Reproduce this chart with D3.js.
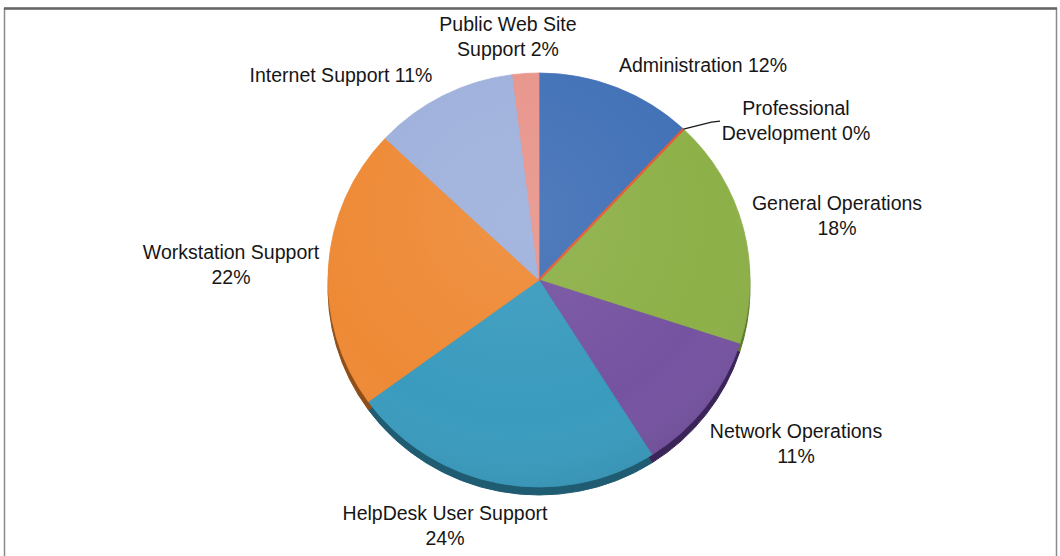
<!DOCTYPE html>
<html>
<head>
<meta charset="utf-8">
<script src="https://cdn.jsdelivr.net/npm/d3@7"></script>
<style>
  html, body { margin: 0; padding: 0; background: #ffffff; }
  svg { display: block; }
  text { font-family: "Liberation Sans", Arial, sans-serif; fill: #161616; }
</style>
</head>
<body>
<svg id="chart" width="1060" height="556"></svg>
<script>
// ---- data ----
const categories = [
  "Administration",
  "Professional Development",
  "General Operations",
  "Network Operations",
  "HelpDesk User Support",
  "Workstation Support",
  "Internet Support",
  "Public Web Site Support"
];
const values = [12, 0, 18, 11, 24, 22, 11, 2];
const labelLines = [
  ["Administration 12%"],
  ["Professional", "Development 0%"],
  ["General Operations", "18%"],
  ["Network Operations", "11%"],
  ["HelpDesk User Support", "24%"],
  ["Workstation Support", "22%"],
  ["Internet Support 11%"],
  ["Public Web Site", "Support 2%"]
];
const colors = ["#4271b7", "#e35a34", "#8db048", "#7653a1", "#3a9bbe", "#ee8a36", "#9fb1dc", "#e8958b"];
const rimColors = ["#2c4e80", "#9a3f22", "#5d7a2c", "#3a2458", "#1f5c72", "#8f4e18", "#6a7ca6", "#a05e56"];

// ---- layout (not data) ----
const W = 1060, H = 556;
const cx = 539, cy = 280, rx = 211, ry = 207, rimDepth = 8;
const labelPos = [
  [703, 72], [796, 115], [837, 210], [796, 438],
  [445, 520], [231, 259], [341, 82], [508, 31]
];
const lineGap = 25;

const svg = d3.select("#chart");

// frame
svg.append("rect").attr("x", 0).attr("y", 0).attr("width", W).attr("height", H).attr("fill", "#fff");
svg.append("rect")
  .attr("x", 4.5).attr("y", 8.5).attr("width", 1052).attr("height", 560)
  .attr("fill", "none").attr("stroke", "#8a8a8a").attr("stroke-width", 1.5);
svg.append("line").attr("x1", 4).attr("x2", 1057).attr("y1", 8.5).attr("y2", 8.5)
  .attr("stroke", "#666").attr("stroke-width", 2.5);

const pie = d3.pie().value(d => d).sort(null);
const arcs = pie(values);
const arc = d3.arc().innerRadius(0).outerRadius(rx);

// rim (3D depth)
const rimG = svg.append("g")
  .attr("transform", `translate(${cx},${cy + rimDepth}) scale(1,${ry / rx})`);
rimG.selectAll("path").data(arcs).join("path")
  .attr("d", arc)
  .attr("fill", (d, i) => rimColors[i])
  .attr("stroke", (d, i) => rimColors[i])
  .attr("stroke-width", 1);

// top face
const defs = svg.append("defs");
const grad = defs.append("radialGradient").attr("id", "shade")
  .attr("cx", "45%").attr("cy", "35%").attr("r", "70%");
grad.append("stop").attr("offset", "0%").attr("stop-color", "#fff").attr("stop-opacity", 0.08);
grad.append("stop").attr("offset", "70%").attr("stop-color", "#fff").attr("stop-opacity", 0);
grad.append("stop").attr("offset", "100%").attr("stop-color", "#000").attr("stop-opacity", 0.08);

const faceG = svg.append("g")
  .attr("transform", `translate(${cx},${cy}) scale(1,${ry / rx})`);
faceG.selectAll("path.slice").data(arcs).join("path")
  .attr("class", "slice")
  .attr("d", arc)
  .attr("fill", (d, i) => colors[i])
  .attr("stroke", (d, i) => colors[i])
  .attr("stroke-width", d => d.endAngle - d.startAngle === 0 ? 2.4 : 0.8)
  .filter(d => d.endAngle - d.startAngle === 0).raise();
faceG.append("circle").attr("r", rx).attr("fill", "url(#shade)");

// leader line for zero-value slice
arcs.forEach((d, i) => {
  if (d.endAngle - d.startAngle === 0) {
    const a = d.startAngle;
    const px = cx + rx * Math.sin(a), py = cy - ry * Math.cos(a);
    const [lx, ly] = labelPos[i];
    svg.append("path")
      .attr("d", `M${px},${py} L${px + 28},${py - 7} L${lx - 76},${py - 8}`)
      .attr("fill", "none").attr("stroke", "#1a1a1a").attr("stroke-width", 1.3);
  }
});

// labels
const lg = svg.append("g");
labelLines.forEach((lines, i) => {
  const [x, y] = labelPos[i];
  const t = lg.append("text")
    .attr("text-anchor", "middle")
    .attr("font-size", "19.5px");
  lines.forEach((s, j) => {
    t.append("tspan").attr("x", x).attr("y", y + j * lineGap).text(s);
  });
});
</script>
</body>
</html>
